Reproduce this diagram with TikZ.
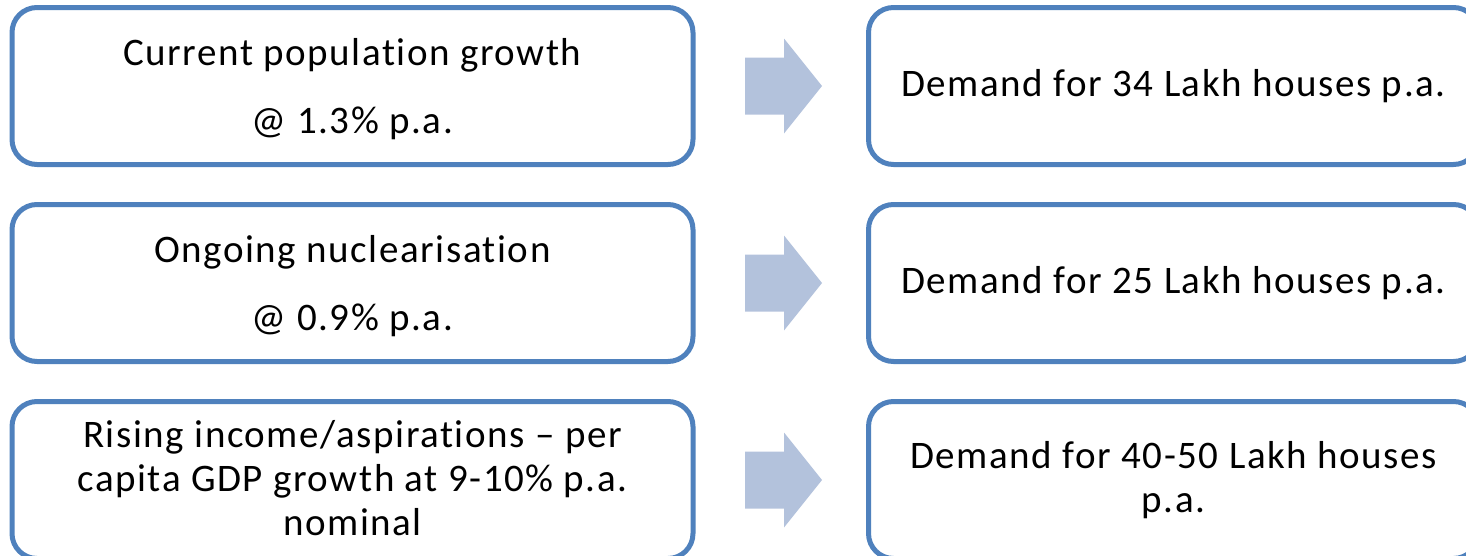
\documentclass[tikz,border=0pt]{standalone}
\usepackage{fontspec}
\setmainfont[LetterSpace=4, Ligatures={NoCommon,NoRequired,NoContextual}]{Carlito}
\definecolor{boxblue}{HTML}{4F81BD}
\definecolor{arrowblue}{HTML}{B3C2DC}
\begin{document}
\begin{tikzpicture}[x=1pt,y=-1pt,
  box/.style={draw=boxblue, line width=5pt, rounded corners=25pt, fill=white, inner sep=0pt},
  lbox/.style={box, minimum width=681pt, minimum height=157pt},
  rbox/.style={box, minimum width=610pt, minimum height=157pt},
  txt/.style={align=center, inner sep=0pt, font=\fontsize{39}{44}\selectfont, text=black},
  blockarrow/.style={fill=arrowblue, draw=none}]
\useasboundingbox (0,0) rectangle (1466,555);
\clip (0,0) rectangle (1466,555);
% left boxes
\node[lbox] (l1) at (352.5,86) {};
\node[lbox] (l2) at (352.5,283) {};
\node[lbox] (l3) at (352.5,480) {};
% right boxes
\node[rbox] (r1) at (1173.5,86) {};
\node[rbox] (r2) at (1173.5,283) {};
\node[rbox] (r3) at (1173.5,480) {};
% texts
\node[txt] (t1) at ([yshift=-3pt]l1.center) {Current population growth\\[24pt]@ 1.3\% p.a.};
\node[txt] (t2) at ([yshift=-3pt]l2.center) {Ongoing nuclearisation\\[24pt]@ 0.9\% p.a.};
\node[txt] (t3) at ([yshift=2pt]l3.center) {Rising income/aspirations -- per\\capita GDP growth at 9-10\% p.a.\\nominal};
\node[txt] (u1) at (r1.center) {Demand for 34 Lakh houses p.a.};
\node[txt] (u2) at (r2.center) {Demand for 25 Lakh houses p.a.};
\node[txt] (u3) at (r3.center) {Demand for 40-50 Lakh houses\\p.a.};
% block arrows
\foreach \cy in {86,283,480}{
  \fill[blockarrow] (745,\cy-28.5) -- (784,\cy-28.5) -- (784,\cy-47.5) -- (822,\cy)
    -- (784,\cy+47.5) -- (784,\cy+28.5) -- (745,\cy+28.5) -- cycle;
}
\end{tikzpicture}
\end{document}
